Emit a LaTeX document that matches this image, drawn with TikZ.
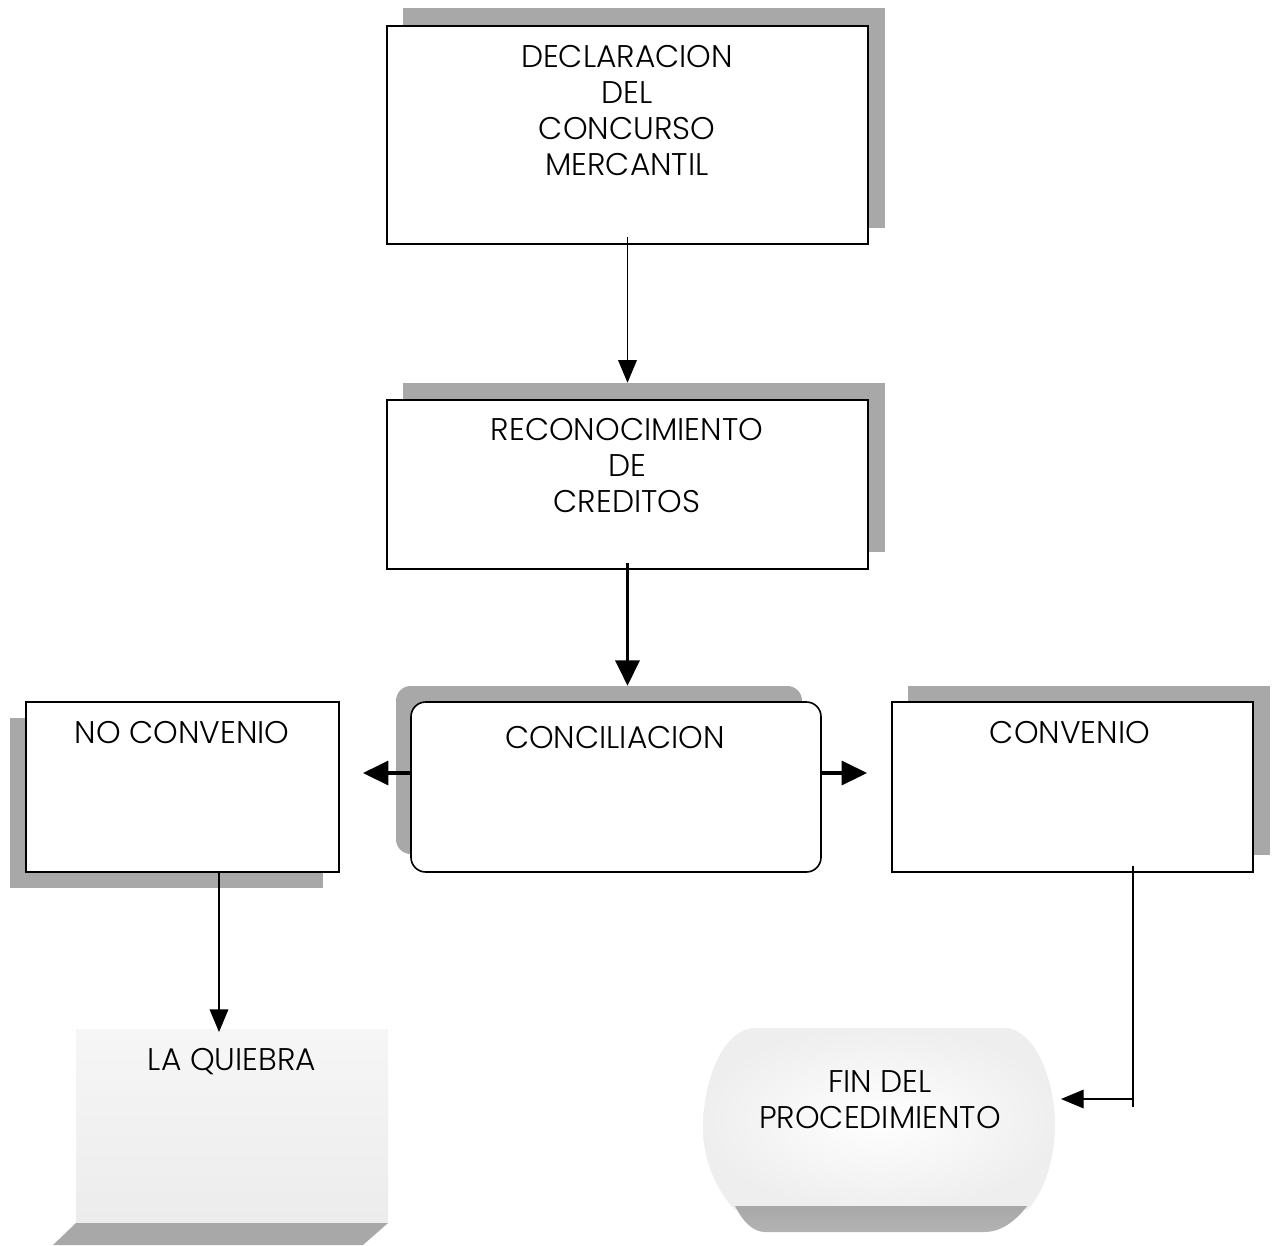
\documentclass[tikz,border=0pt]{standalone}
\usepackage{fontspec}
\setmainfont{Poppins Light}
\usetikzlibrary{arrows.meta,calc}
\definecolor{shd}{gray}{0.66}
\begin{document}
\begin{tikzpicture}[x=0.75pt,y=-0.75pt,
  box/.style={draw=black, line width=1.2pt, fill=white, inner sep=0pt},
  shadowbox/.style={fill=shd, draw=none, inner sep=0pt},
  lbl/.style={font=\fontsize{23.5}{27}\selectfont, align=center, text=black, inner sep=0pt},
  thinarrow/.style={line width=1pt, -{Triangle[width=14pt,length=17pt]}},
  thickarrow/.style={line width=2.6pt, -{Triangle[width=18pt,length=19pt]}},
  plainline/.style={line width=1pt}
]
\useasboundingbox (0,0) rectangle (1276,1245);

% ---- box 1
\node[shadowbox, minimum width=361.5pt, minimum height=165pt] (s1) at (644,118) {};
\node[box, minimum width=360.75pt, minimum height=163.5pt] (b1) at (627.5,135) {};
\node[lbl] (t1) at (627,111) {DECLARACION\\DEL\\CONCURSO\\MERCANTIL};

% ---- box 2
\node[shadowbox, minimum width=361.5pt, minimum height=126.75pt] (s2) at (644,467.5) {};
\node[box, minimum width=360.75pt, minimum height=126.75pt] (b2) at (627.5,484.5) {};
\node[lbl] (t2) at (627,466) {RECONOCIMIENTO\\DE\\CREDITOS};

% ---- conciliacion
\node[shadowbox, rounded corners=11pt, minimum width=304.5pt, minimum height=126pt] (cs) at (599,770) {};
\node[box, rounded corners=11pt, minimum width=307.5pt, minimum height=127.5pt] (conc) at (616,787) {};
\node[lbl] (tc) at (615,738) {CONCILIACION};

% ---- no convenio
\node[shadowbox, minimum width=234.75pt, minimum height=127.5pt] (ns) at (166.5,803) {};
\node[box, minimum width=234.75pt, minimum height=127.5pt] (nc) at (182.5,787) {};
\node[lbl] (tn) at (182,733) {NO CONVENIO};

% ---- convenio
\node[shadowbox, minimum width=271.5pt, minimum height=126.75pt] (vs) at (1088.5,770.5) {};
\node[box, minimum width=270.75pt, minimum height=127.5pt] (cv) at (1072.5,787) {};
\node[lbl] (tv) at (1070,733) {CONVENIO};

% ---- la quiebra
\shade[top color=gray!7, bottom color=gray!15] (76,1029) rectangle (388,1223);
\fill[shd] (76,1223) -- (388,1223) -- (363,1245) -- (53,1245) -- cycle;
\node[lbl] (lq) at (232,1062) {LA QUIEBRA};

% ---- fin del procedimiento
\shade[inner color=white, outer color=gray!13]
  (752,1028) -- (1008,1028)
  .. controls (1040,1034) and (1056,1090) .. (1055,1128)
  .. controls (1054,1165) and (1042,1195) .. (1027,1210)
  -- (735,1210)
  .. controls (716,1190) and (703,1160) .. (703,1128)
  .. controls (703,1088) and (718,1034) .. (752,1028) -- cycle;
\shade[top color=shd, bottom color=gray!60]
  (735,1206) -- (1027,1206)
  .. controls (1015,1222) and (1000,1232) .. (985,1232)
  -- (765,1232)
  .. controls (752,1232) and (742,1220) .. (735,1206) -- cycle;
\node[lbl] (fin) at (880,1100) {FIN DEL\\PROCEDIMIENTO};

% ---- connectors
\draw[thinarrow] ([yshift=6pt]b1.south) -- (b1.south |- s2.north);
\draw[thickarrow] ([yshift=5pt]b2.south) -- (b2.south |- cs.north);

\coordinate (la) at (363,773);
\coordinate (ra) at (867,773);
\draw[thickarrow] (conc.west |- la) -- (la);
\draw[thickarrow] (conc.east |- ra) -- (ra);

\coordinate (qa) at (219,1032);
\draw[thinarrow] (nc.south -| qa) -- (qa);

\coordinate (jn) at (1133,1099);
\coordinate (fe) at (1061,1099);
\draw[plainline] ([yshift=5pt]cv.south -| jn) -- ([yshift=-6pt]jn);
\draw[thinarrow] (jn) -- (fe);
\end{tikzpicture}
\end{document}
